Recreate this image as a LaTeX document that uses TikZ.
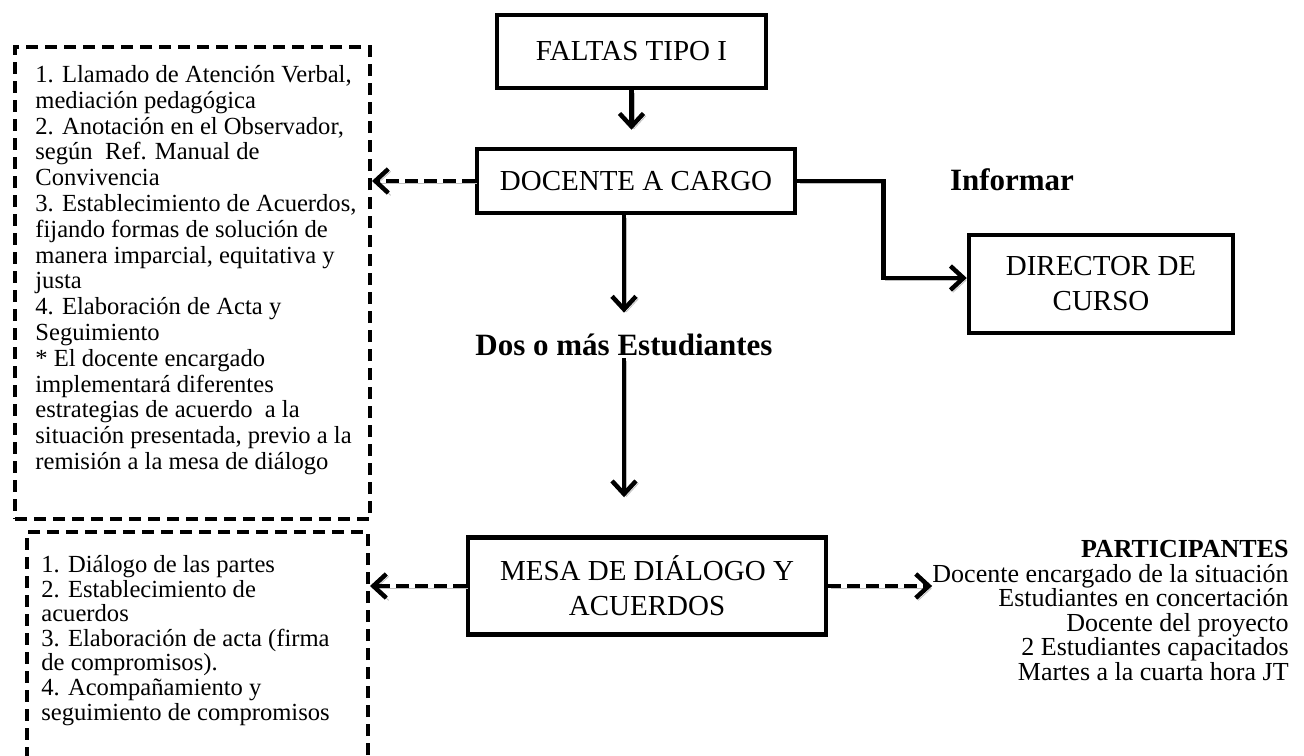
\documentclass[tikz,border=0pt]{standalone}
\usepackage{fontspec}
\setmainfont{Liberation Serif}
\usepackage{tikz}
\usetikzlibrary{
    arrows.meta,
    positioning
}
\tikzstyle{caja} = [
    rectangle, draw,
    line width=2.25pt,
    text centered,
    align=center,
    inner sep=0pt,
    font=\fontsize{14.5}{17.5}\selectfont
]
\tikzstyle{punteada} = [
    rectangle, draw,
    line width=2pt,
    dash pattern=on 6pt off 3.5pt
]
\tikzstyle{lista} = [
    align=left,
    inner sep=0pt,
    font=\fontsize{12.3}{12.9}\selectfont
]
\tikzstyle{resaltado} = [
    inner sep=0pt,
    font=\fontsize{15.5}{18}\selectfont\bfseries
]
\tikzstyle{flecha} = [
    line width=2.25pt,
    -{Straight Barb[length=6.5pt, width=12pt]},
    preaction={draw=gray!50, transform canvas={shift={(1.2pt,-1.2pt)}}}
]
\tikzstyle{flechapunteada} = [
    flecha,
    dash pattern=on 6.5pt off 3pt
]

\begin{document}
\begin{tikzpicture}[x=0.5pt, y=-0.5pt]

\useasboundingbox (0,0) rectangle (1304,755);

\node (faltas) [caja, minimum width=134.5pt, minimum height=36.5pt] at (631.5,51.5)
    {FALTAS TIPO I};
\node (docente) [caja, minimum width=159pt, minimum height=32pt] at (636,181)
    {DOCENTE A CARGO};
\node (director) [caja, minimum width=132pt, minimum height=49pt] at (1101,284)
    {DIRECTOR DE\\CURSO};
\node (mesa) [caja, minimum width=179pt, minimum height=48.5pt] at (647,586)
    {MESA DE DIÁLOGO Y\\ACUERDOS};

\node (informar) [resaltado] at (1012,180) {Informar};
\node (estudiantes) [resaltado] at (624,345) {Dos o más Estudiantes};

% acciones del docente
\node (caja1) [punteada, minimum width=177.5pt, minimum height=236pt] at (192.5,283) {};
\node (acciones) [lista, below right=10pt and 11pt of caja1.north west]
    {1. Llamado de Atención Verbal,\\
     mediación pedagógica\\
     2. Anotación en el Observador,\\
     según\ \ Ref. Manual de\\
     Convivencia\\
     3. Establecimiento de Acuerdos,\\
     fijando formas de solución de\\
     manera imparcial, equitativa y\\
     justa\\
     4. Elaboración de Acta y\\
     Seguimiento\\
     * El docente encargado\\
     implementará diferentes\\
     estrategias de acuerdo\ \ a la\\
     situación presentada, previo a la\\
     remisión a la mesa de diálogo};

% pasos de la mesa
\node (caja2) [punteada, minimum width=170.5pt, minimum height=121.5pt] at (197.5,653.5) {};
\node (pasos) [lista, font=\fontsize{12.3}{12.3}\selectfont,
               below right=12.5pt and 8pt of caja2.north west]
    {1. Diálogo de las partes\\
     2. Establecimiento de\\
     acuerdos\\
     3. Elaboración de acta (firma\\
     de compromisos).\\
     4. Acompañamiento y\\
     seguimiento de compromisos};

\node (participantes) [lista, align=right, font=\fontsize{13}{12.25}\selectfont,
                       anchor=north east] at (1289,540)
    {\textbf{PARTICIPANTES}\\
     Docente encargado de la situación\\
     Estudiantes en concertación\\
     Docente del proyecto\\
     2 Estudiantes capacitados\\
     Martes a la cuarta hora JT};

\draw [flecha, shorten >=8.5pt] (faltas.south) -- (faltas.south |- docente.north);
\draw [flecha, shorten >=10.5pt] (estudiantes.north |- docente.south) -- (estudiantes.north);
\draw [flecha, shorten <=1pt, shorten >=19pt] (estudiantes.south) -- (estudiantes.south |- mesa.north);

% informar al director
\draw [flecha] (docente.east) -- ++(86,0) |- ([yshift=3pt]director.west);

\draw [flechapunteada] (docente.west) -- (caja1.east |- docente.west);
\draw [flechapunteada] (mesa.west) -- (caja2.east |- mesa.west);
\draw [flechapunteada] (mesa.east) -- (participantes.west |- mesa.east);

\end{tikzpicture}
\end{document}
